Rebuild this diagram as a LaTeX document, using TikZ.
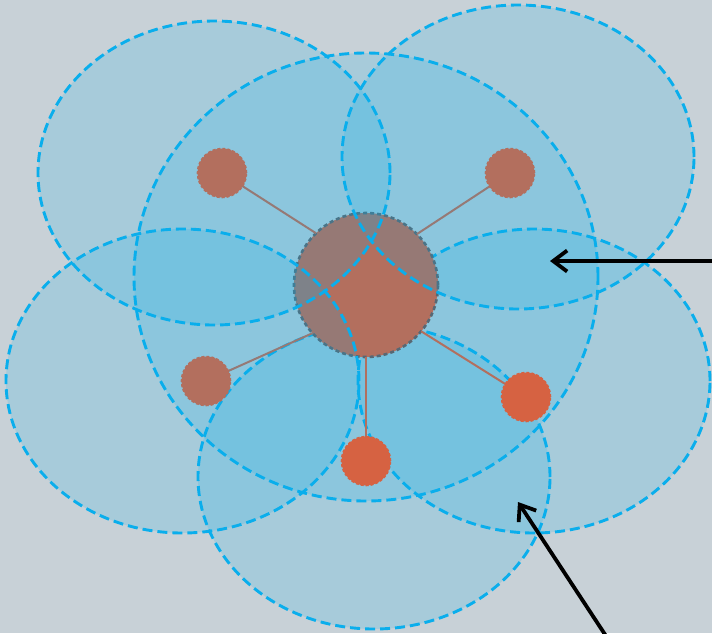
\documentclass[tikz,border=0pt]{standalone}
\usetikzlibrary{shapes.geometric,arrows.meta}
\definecolor{bgc}{RGB}{200,209,215}
\definecolor{cov}{RGB}{8,176,236}
\definecolor{covedge}{RGB}{10,174,236}
\definecolor{nodeor}{RGB}{214,98,66}
\definecolor{hubedge}{RGB}{104,90,92}
\tikzset{
  area/.style={ellipse, inner sep=0pt, outer sep=0pt, draw=covedge, line width=2.9pt,
    dash pattern=on 10pt off 5pt, fill=cov, fill opacity=0.17, draw opacity=1},
  hub/.style={circle, inner sep=0pt, outer sep=0pt, minimum size=144pt, fill=nodeor,
    draw=hubedge, line width=2.6pt, dash pattern=on 4pt off 3pt},
  sat/.style={circle, inner sep=0pt, outer sep=0pt, minimum size=49pt, fill=nodeor,
    draw=nodeor, line width=1.6pt, dash pattern=on 3pt off 2pt},
  link/.style={draw=nodeor, line width=2pt},
  pointer/.style={draw=black, line width=3.8pt, -{Straight Barb[length=14pt,width=21pt]}}
}
\begin{document}
\begin{tikzpicture}[x=1pt,y=-1pt]
\useasboundingbox (0,0) rectangle (712,633);
\fill[bgc] (0,0) rectangle (712,633);
% lower coverage areas
\node[area, minimum width=352pt, minimum height=304pt] (eR) at (534,381) {};
\node[area, minimum width=352pt, minimum height=304pt] (eB) at (374,477) {};
% hub
\coordinate (p0) at (366,285);
\node[hub] (hub) at (p0) {};
% satellite positions
\coordinate (p1) at (222,173);
\coordinate (p2) at (510,173);
\coordinate (p3) at (206,381);
\coordinate (p4) at (526,397);
\coordinate (p5) at (366,461);
% links
\draw[link] (hub.134) -- (p1);
\draw[link] (hub.45) -- (p2);
\draw[link] (hub.222) -- (p3);
\draw[link] (hub.320) -- (p4);
\draw[link] (hub.270) -- (p5);
% big coverage
\node[area, minimum width=464pt, minimum height=448pt] (eC) at (366,277) {};
% satellites
\node[sat] (s1) at (p1) {};
\node[sat] (s2) at (p2) {};
\node[sat] (s3) at (p3) {};
\node[sat] (s4) at (p4) {};
\node[sat] (s5) at (p5) {};
% upper coverage areas
\node[area, minimum width=352pt, minimum height=304pt] (eTL) at (214,173) {};
\node[area, minimum width=352pt, minimum height=304pt] (eTR) at (518,157) {};
\node[area, minimum width=353pt, minimum height=304pt] (eL) at (182.5,381) {};
% pointers
\coordinate (a1s) at (714,261);
\coordinate (a1e) at (550,261);
\coordinate (a2s) at (606,636);
\coordinate (a2e) at (518,502);
\draw[pointer] (a1s) -- (a1e);
\draw[pointer] (a2s) -- (a2e);
\end{tikzpicture}
\end{document}
